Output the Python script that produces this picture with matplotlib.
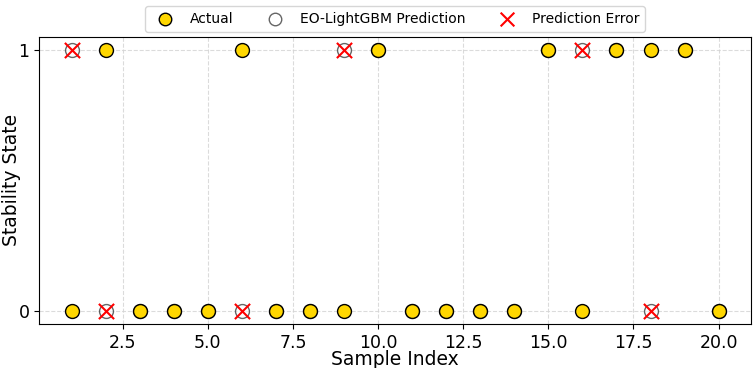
import numpy as np
import matplotlib
matplotlib.use("Agg")
import matplotlib.pyplot as plt

sample_index = np.arange(1, 21)
actual = [0, 1, 0, 0, 0, 1, 0, 0, 0, 1, 0, 0, 0, 0, 1, 0, 1, 1, 1, 0]
predicted = [1, 0, 0, 0, 0, 0, 0, 0, 1, 1, 0, 0, 0, 0, 1, 1, 1, 0, 1, 0]

actual = np.array(actual)
predicted = np.array(predicted)
err = actual != predicted

fig = plt.figure(figsize=(7.54, 3.68), dpi=100)
ax = fig.add_axes([0.052, 0.12, 0.944, 0.78])

ax.scatter(sample_index, predicted, s=100, facecolor="white", edgecolor="black",
           alpha=0.6, label="EO-LightGBM Prediction", zorder=2)
ax.scatter(sample_index, actual, s=100, facecolor="gold", edgecolor="black",
           label="Actual", zorder=3)
ax.scatter(sample_index[err], predicted[err], s=120, marker="x", color="red",
           linewidths=1.5, label="Prediction Error", zorder=4)

ax.set_yticks([0, 1])
ax.set_xlabel("Sample Index", fontsize=13.5)
ax.set_ylabel("Stability State", fontsize=13.5)
ax.xaxis.set_label_coords(0.5, -0.092)
ax.yaxis.set_label_coords(-0.026, 0.5)
ax.tick_params(labelsize=12.5)
ax.grid(True, linestyle="--", color="lightgray", alpha=0.8)

h, l = ax.get_legend_handles_labels()
order = [1, 0, 2]
ax.legend([h[i] for i in order], [l[i] for i in order], loc="upper center",
          bbox_to_anchor=(0.5, 1.13), ncol=3, fontsize=10, frameon=True,
          handletextpad=0.8, columnspacing=2.0, markerscale=0.9)

fig.savefig("out.png", dpi=100)
